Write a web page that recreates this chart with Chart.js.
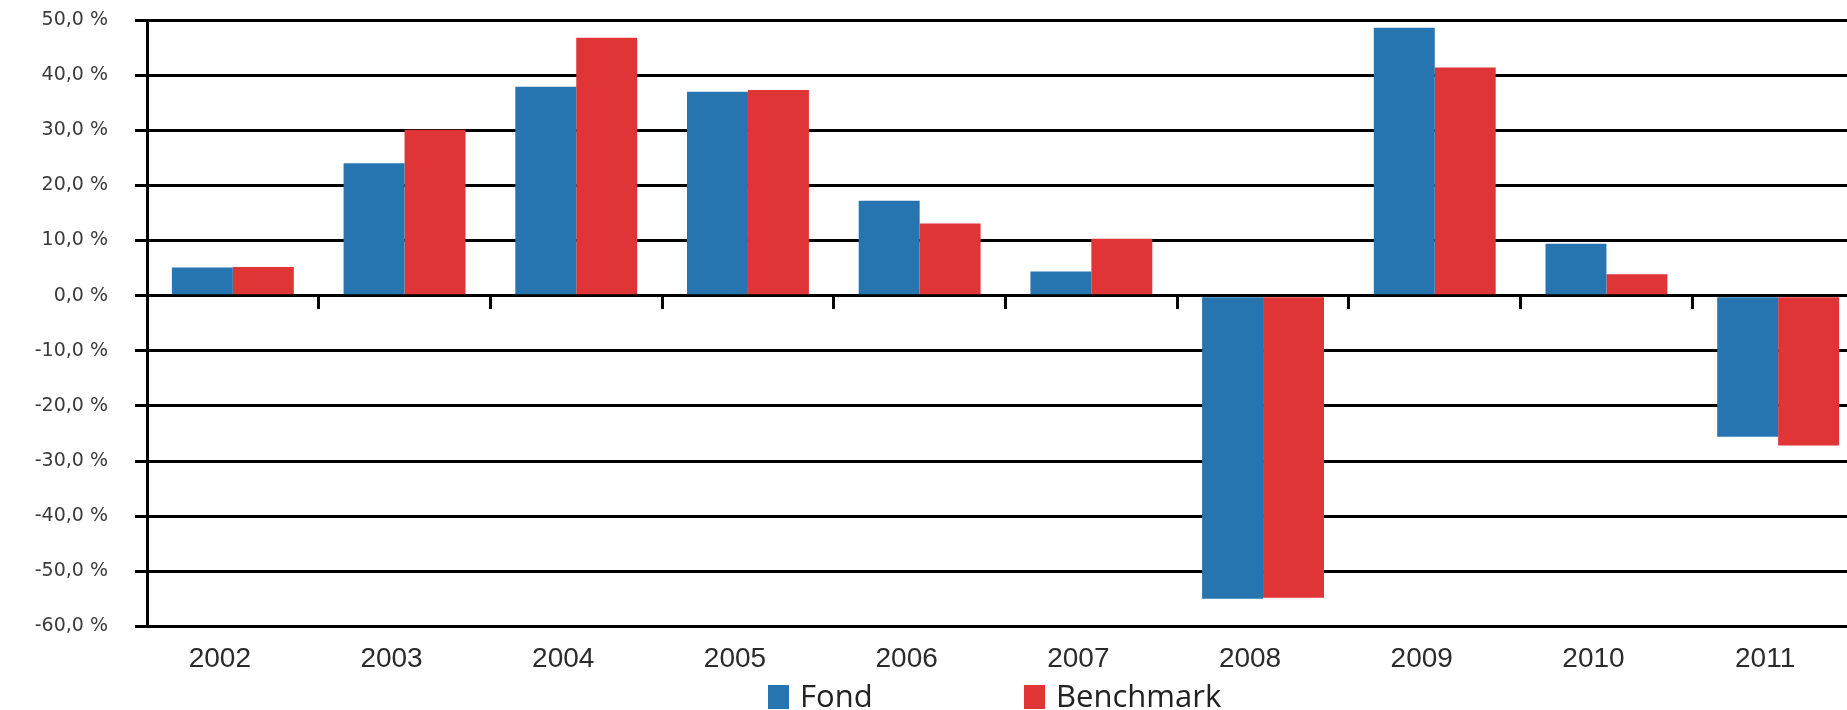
<!DOCTYPE html>
<html>
<head>
<meta charset="utf-8">
<title>Fond / Benchmark 2002-2011</title>
<script src="https://cdn.jsdelivr.net/npm/chart.js@4.4.1/dist/chart.umd.min.js"></script>
<style>
    html, body {
        margin: 0;
        padding: 0;
        background: #fff;
        overflow: hidden;
    }
    body {
        position: relative;
        width: 1847px;
        height: 710px;
    }
    /* le graphique deborde a droite, comme dans l'original */
    #chartWrap {
        position: absolute;
        left: 0;
        top: 0;
        width: 1880px;
        height: 710px;
    }
    #legend {
        position: absolute;
        left: 768px;
        top: 678px;
        display: flex;
        font-family: 'Liberation Sans Narrow', 'Open Sans', sans-serif;
        font-size: 31px;
        line-height: 34px;
        color: #222;
    }
    .legend-item {
        display: flex;
        align-items: center;
    }
    .legend-item:first-child {
        width: 256px;
    }
    .legend-swatch {
        width: 21px;
        height: 24px;
        margin-right: 11px;
        margin-top: 3px;
    }
</style>
</head>
<body>
<div id="chartWrap"><canvas id="perfChart"></canvas></div>
<div id="legend"></div>

<script>
// Donnees (rendement annuel en %)
const years = ['2002', '2003', '2004', '2005', '2006', '2007', '2008', '2009', '2010', '2011'];
const fondValues = [5.1, 24.0, 37.9, 37.0, 17.2, 4.4, -55.0, 48.6, 9.4, -25.6];
const benchmarkValues = [5.2, 30.1, 46.8, 37.3, 13.1, 10.3, -54.8, 41.4, 3.9, -27.2];
const seriesNames = ['Fond', 'Benchmark'];

// Axe vertical
const yMin = -60;
const yMax = 50;
const yStep = 10;

const fondColor = '#2775b0';
const benchmarkColor = '#e03537';

function formatPercent(value) {
    return value.toFixed(1).replace('.', ',') + ' %';
}

/**
 * Construit la legende HTML a partir des datasets du graphique
 */
function buildLegend(chart) {
    const legend = document.getElementById('legend');
    chart.data.datasets.forEach(ds => {
        const item = document.createElement('div');
        item.className = 'legend-item';
        const swatch = document.createElement('span');
        swatch.className = 'legend-swatch';
        swatch.style.background = ds.backgroundColor;
        const label = document.createElement('span');
        label.textContent = ds.label;
        item.appendChild(swatch);
        item.appendChild(label);
        legend.appendChild(item);
    });
}

const ctx = document.getElementById('perfChart');
const chart = new Chart(ctx, {
    type: 'bar',
    data: {
        labels: years,
        datasets: [{
            label: seriesNames[0],
            data: fondValues,
            backgroundColor: fondColor,
            borderWidth: 0,
            categoryPercentage: 0.71,
            barPercentage: 1.0
        }, {
            label: seriesNames[1],
            data: benchmarkValues,
            backgroundColor: benchmarkColor,
            borderWidth: 0,
            categoryPercentage: 0.71,
            barPercentage: 1.0
        }]
    },
    options: {
        responsive: true,
        maintainAspectRatio: false,
        animation: false,
        layout: {
            padding: { left: 0, right: 16, top: 20, bottom: 18 }
        },
        plugins: {
            legend: { display: false },
            tooltip: { enabled: false }
        },
        scales: {
            x: {
                type: 'category',
                position: 'bottom',
                grid: { display: false, drawTicks: false },
                border: { display: false },
                ticks: {
                    color: '#2b2b2b',
                    font: { family: "'Liberation Sans', Arial, sans-serif", size: 28 },
                    padding: 16,
                    labelOffset: -13,
                    maxRotation: 0,
                    autoSkip: false
                }
            },
            // petits traits de separation sur la ligne du zero
            xZero: {
                type: 'category',
                position: { y: 0 },
                grid: {
                    display: true,
                    offset: true,
                    drawOnChartArea: false,
                    drawTicks: true,
                    tickLength: 13,
                    color: '#000',
                    lineWidth: 3
                },
                border: { display: false },
                ticks: { display: false }
            },
            y: {
                min: yMin,
                max: yMax,
                // largeur fixe de l'axe, sans marge haute due au padding des libelles
                afterFit: scale => {
                    scale.width = 147;
                    scale.paddingTop = 10;
                    scale.paddingBottom = 10;
                },
                grid: {
                    color: '#000',
                    lineWidth: 3,
                    drawTicks: true,
                    tickLength: 12
                },
                border: { display: true, color: '#000', width: 3 },
                ticks: {
                    stepSize: yStep,
                    padding: 27,
                    color: '#3a3a3a',
                    font: { family: "'DejaVu Sans', sans-serif", size: 19 },
                    callback: value => formatPercent(value)
                }
            }
        }
    }
});

buildLegend(chart);
</script>
</body>
</html>
